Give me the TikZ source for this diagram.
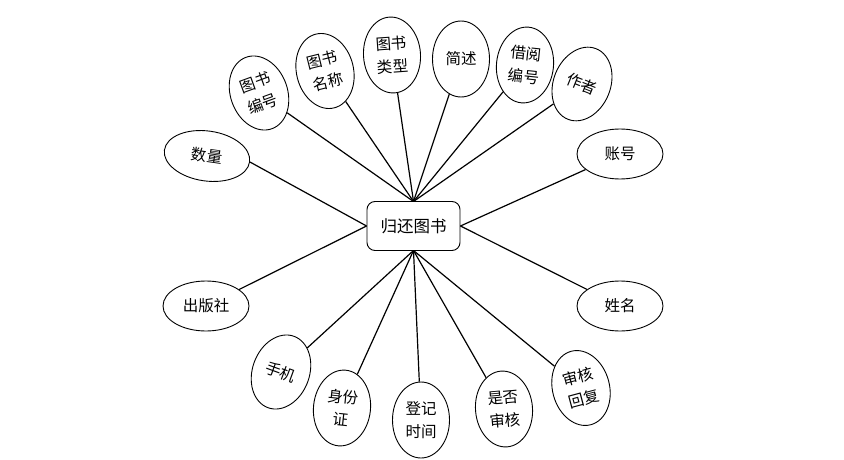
\documentclass[tikz,border=0pt]{standalone}
\usepackage{fontspec}
\newfontfamily\cjk{Noto Sans CJK SC}
\usetikzlibrary{shapes.geometric}
\begin{document}
\begin{tikzpicture}[x=1pt,y=-1pt,
  attr/.style={ellipse,draw,line width=0.9pt,inner sep=0pt,minimum width=57pt,minimum height=76pt,align=center,font=\cjk\fontsize{15.5}{23}\selectfont},
  hattr/.style={ellipse,draw,line width=0.9pt,inner sep=0pt,minimum width=86pt,minimum height=50pt,align=center,font=\cjk\fontsize{15.5}{23}\selectfont},
  ent/.style={draw,line width=0.9pt,rounded corners=8pt,minimum width=93pt,minimum height=49pt,inner sep=0pt,font=\cjk\fontsize{16.5}{20}\selectfont},
  link/.style={line width=1.2pt}]
\useasboundingbox (0,0) rectangle (844,460);
\node[ent] (c) at (413.5,226) {归还图书};
\coordinate (ct) at (413.5,201.5);
\coordinate (cb) at (413.5,250.5);
% top
\node[attr,rotate=20] (a1) at (259,93) {图书\\编号};
\node[attr,rotate=14] (a2) at (325,71) {图书\\名称};
\node[attr,rotate=4] (a3) at (392,55) {图书\\类型};
\node[attr] (a4) at (461,59) {简述};
\node[attr,rotate=-6] (a5) at (525,65) {借阅\\编号};
\node[attr,rotate=-22] (a6) at (582,84) {作者};
% sides
\node[hattr,rotate=-8] (s1) at (207,156) {数量};
\node[hattr] (s2) at (620,154) {账号};
\node[hattr] (s3) at (206,306) {出版社};
\node[hattr] (s4) at (620,306) {姓名};
% bottom
\node[attr,rotate=-20] (b1) at (281,372) {手机};
\node[attr,rotate=-6] (b2) at (342,408) {身份\\证};
\node[attr] (b3) at (421,420) {登记\\时间};
\node[attr,rotate=5] (b4) at (504,409) {是否\\审核};
\node[attr,rotate=15] (b5) at (581,388) {审核\\回复};
% links
\foreach \n in {a1,a2,a3,a4,a5,a6} \draw[link] (\n) -- (ct);
\foreach \n in {b1,b2,b3,b4,b5} \draw[link] (\n) -- (cb);
\draw[link] (s1.east) -- (c.west);
\draw[link] (s3) -- (c.west);
\draw[link] (s2) -- (c.east);
\draw[link] (s4) -- (c.east);
\end{tikzpicture}
\end{document}
